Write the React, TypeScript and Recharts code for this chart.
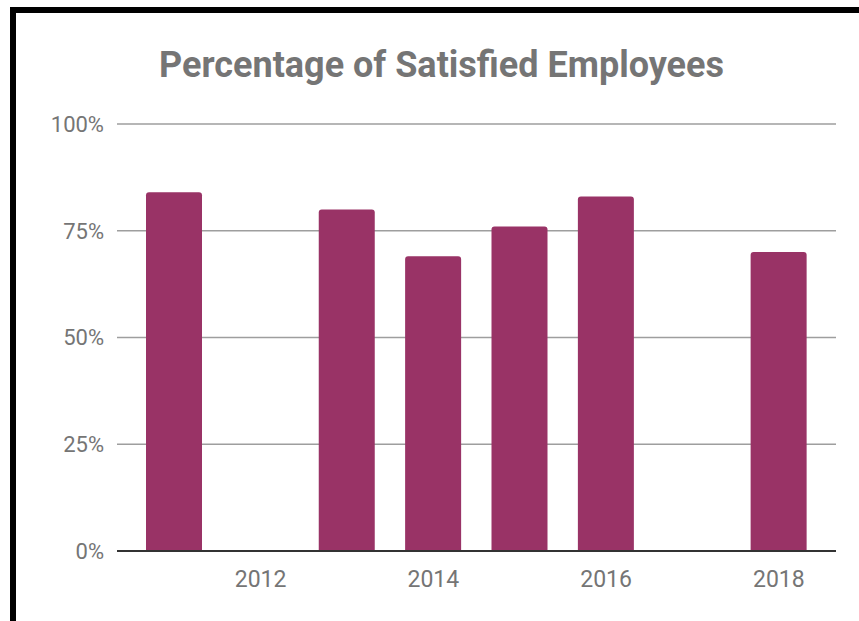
import { BarChart, Bar, XAxis, YAxis, CartesianGrid } from "recharts";

const years = [2011, 2012, 2013, 2014, 2015, 2016, 2017, 2018];
const satisfied = [84, null, 80, 69, 76, 83, null, 70];
const yearTicks = [2012, 2014, 2016, 2018];
const percentTicks = [0, 25, 50, 75, 100];

const data = years.map((year, i) => ({ year, satisfied: satisfied[i] }));

const App = () => {
  return (
    <div
      style={{
        position: "absolute",
        left: 0,
        top: 0,
        width: 859,
        height: 621,
        background: "#fff",
        overflow: "hidden",
        fontFamily: "Roboto, sans-serif",
      }}
    >
      <div style={{ position: "absolute", left: 10, top: 7, width: 849, height: 6, background: "#000" }} />
      <div style={{ position: "absolute", left: 10, top: 7, width: 6, height: 614, background: "#000" }} />
      <div
        style={{
          position: "absolute",
          left: 12,
          top: 47,
          width: 859,
          textAlign: "center",
          fontSize: 36,
          lineHeight: "36px",
          fontWeight: 700,
          color: "#757575",
        }}
      >
        Percentage of Satisfied Employees
      </div>
      <div style={{ position: "absolute", left: 0, top: 0 }}>
        <BarChart
          width={859}
          height={621}
          data={data}
          margin={{ top: 124, right: 23, bottom: 30, left: 0 }}
        >
          <CartesianGrid vertical={false} stroke="#9e9e9e" strokeWidth={1.5} />
          <XAxis
            dataKey="year"
            ticks={yearTicks}
            height={40}
            padding={{ left: 14, right: 14 }}
            tickLine={false}
            tickSize={0}
            tickMargin={20}
            axisLine={{ stroke: "#333", strokeWidth: 2 }}
            tick={{ fill: "#757575", fontSize: 23 }}
          />
          <YAxis
            domain={[0, 100]}
            ticks={percentTicks}
            width={117}
            axisLine={false}
            tickLine={false}
            tickSize={0}
            tickMargin={13}
            tickFormatter={(v) => `${v}%`}
            tick={{ fill: "#757575", fontSize: 22 }}
          />
          <Bar
            dataKey="satisfied"
            fill="#993366"
            barSize={56}
            radius={[3, 3, 0, 0]}
            isAnimationActive={false}
          />
        </BarChart>
      </div>
    </div>
  );
};

export default App;
